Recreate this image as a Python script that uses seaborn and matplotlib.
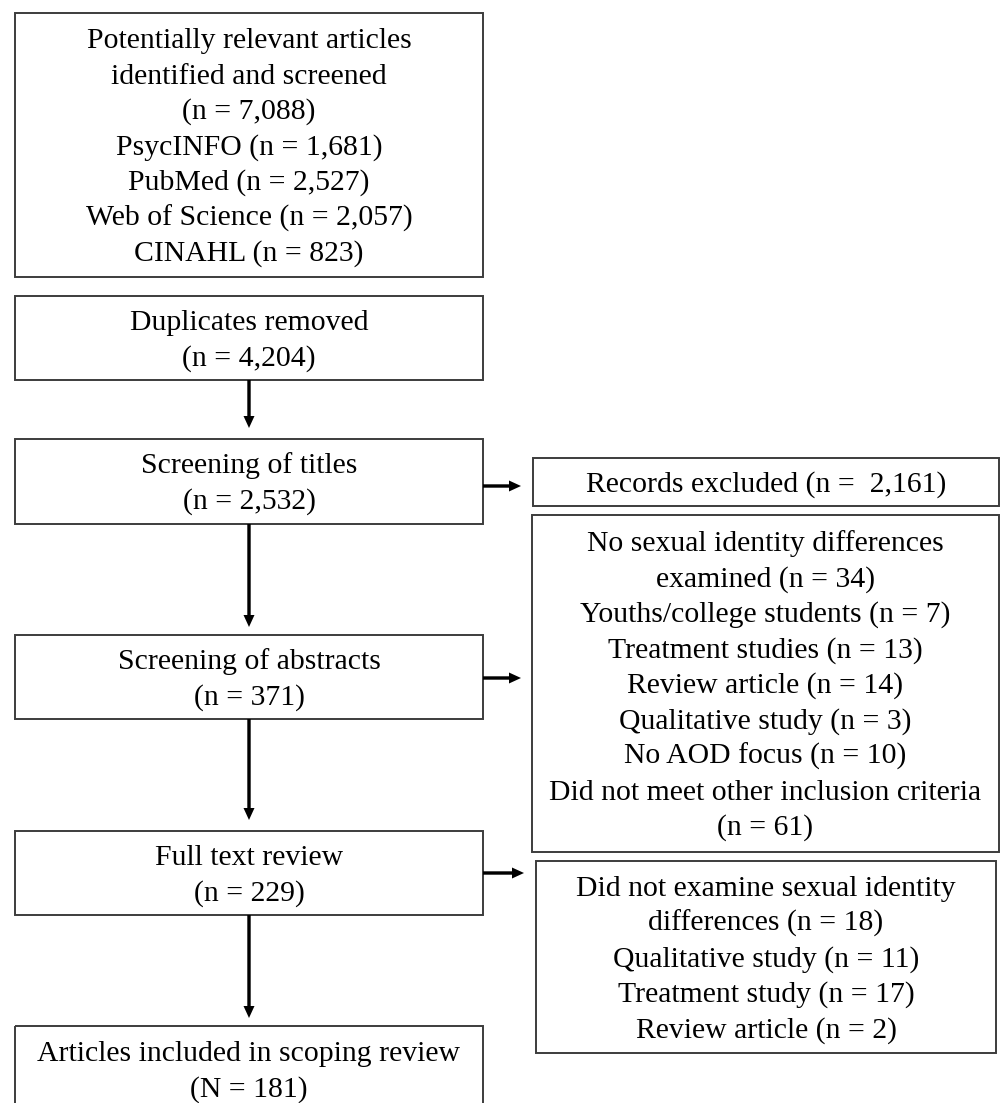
import matplotlib
matplotlib.use("Agg")
import matplotlib.pyplot as plt
import seaborn as sns
from matplotlib.patches import Rectangle

sns.set_theme(style="white")
plt.rcParams['font.family'] = ['Liberation Serif', 'DejaVu Serif']

# ---- data: flow stages (text) ----
main_labels = [
    ["Potentially relevant articles", "identified and screened", "(n = 7,088)",
     "PsycINFO (n = 1,681)", "PubMed (n = 2,527)", "Web of Science (n = 2,057)",
     "CINAHL (n = 823)"],
    ["Duplicates removed", "(n = 4,204)"],
    ["Screening of titles", "(n = 2,532)"],
    ["Screening of abstracts", "(n = 371)"],
    ["Full text review", "(n = 229)"],
    ["Articles included in scoping review", "(N = 181)"],
]
side_labels = [
    ["Records excluded (n =  2,161)"],
    ["No sexual identity differences", "examined (n = 34)",
     "Youths/college students (n = 7)", "Treatment studies (n = 13)",
     "Review article (n = 14)", "Qualitative study (n = 3)",
     "No AOD focus (n = 10)", "Did not meet other inclusion criteria",
     "(n = 61)"],
    ["Did not examine sexual identity", "differences (n = 18)",
     "Qualitative study (n = 11)", "Treatment study (n = 17)",
     "Review article (n = 2)"],
]

# ---- layout (pixel coordinates) ----
main_boxes = [(15, 13, 483, 277), (15, 296, 483, 380), (15, 439, 483, 524),
              (15, 635, 483, 719), (15, 831, 483, 915), (15, 1026, 483, 1113)]
side_boxes = [(533, 458, 999, 506), (532, 515, 999, 852), (536, 861, 996, 1053)]
down_arrows = [(380, 428), (524, 627), (719, 820), (915, 1018)]
right_arrows = [(486, 521), (678, 521), (873, 524)]

W, H = 1003, 1103
fig = plt.figure(figsize=(W / 100, H / 100), dpi=100)
ax = fig.add_axes([0, 0, 1, 1])
ax.set_xlim(0, W)
ax.set_ylim(H, 0)
ax.axis("off")

FS = 21.4
LINE = 35.5
EDGE = "#3c3c3c"


def draw_box(box, lines):
    x0, y0, x1, y1 = box
    ax.add_patch(Rectangle((x0, y0), x1 - x0, y1 - y0, fill=False,
                           edgecolor=EDGE, linewidth=1.4))
    cx = (x0 + x1) / 2
    cy = (y0 + y1) / 2
    n = len(lines)
    for i, t in enumerate(lines):
        yc = cy + (i - (n - 1) / 2) * LINE
        ax.text(cx, yc + 9.5, t, ha="center", va="baseline", fontsize=FS,
                color="black")


for b, l in zip(main_boxes, main_labels):
    draw_box(b, l)
for b, l in zip(side_boxes, side_labels):
    draw_box(b, l)

xc = (main_boxes[0][0] + main_boxes[0][2]) / 2
for y0, y1 in down_arrows:
    ax.arrow(xc, y0, 0, y1 - y0, width=3.4, head_width=11, head_length=12,
             length_includes_head=True, color="black", lw=0)
xr = main_boxes[0][2]
for y, x1 in right_arrows:
    ax.arrow(xr, y, x1 - xr, 0, width=3.4, head_width=11, head_length=12,
             length_includes_head=True, color="black", lw=0)

fig.savefig("out.png", dpi=100, facecolor="white")
